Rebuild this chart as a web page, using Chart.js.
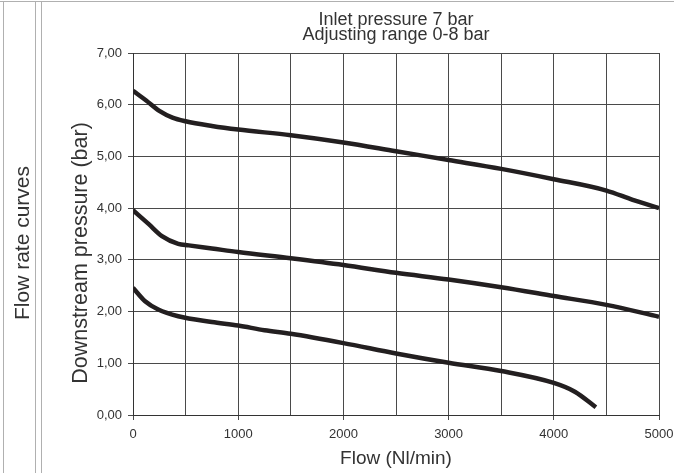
<!DOCTYPE html>
<html>
<head>
<meta charset="utf-8">
<script src="https://cdn.jsdelivr.net/npm/chart.js@4/dist/chart.umd.min.js"></script>
<style>
  html, body { margin: 0; padding: 0; background: #fff; }
  #wrap { position: relative; width: 674px; height: 473px; }
</style>
</head>
<body>
<div id="wrap"><canvas id="myChart" width="674" height="473"></canvas></div>
<script>
'use strict';

// flow (Nl/min) and downstream pressure (bar)
let flowTop = [0, 125, 250, 375, 500, 750, 1000, 1500, 2000, 2500, 3000, 3500, 4000, 4500, 4750, 5000];
let pressTop = [6.27, 6.08, 5.88, 5.75, 5.68, 5.59, 5.52, 5.41, 5.27, 5.10, 4.93, 4.76, 4.56, 4.34, 4.16, 4.00];

let flowMid = [0, 150, 275, 430, 530, 750, 1000, 1500, 2000, 2500, 3000, 3500, 4000, 4500, 5000];
let pressMid = [3.96, 3.69, 3.46, 3.31, 3.28, 3.22, 3.15, 3.03, 2.90, 2.75, 2.62, 2.47, 2.30, 2.13, 1.90];

let flowLow = [0, 115, 240, 430, 750, 1000, 1250, 1500, 2000, 2500, 3000, 3500, 4000, 4200, 4400];
let pressLow = [2.46, 2.20, 2.04, 1.91, 1.80, 1.73, 1.64, 1.57, 1.39, 1.19, 1.01, 0.85, 0.62, 0.45, 0.15];

let titleLines = ['Inlet pressure 7 bar', 'Adjusting range 0-8 bar'];
let xTitle = 'Flow (Nl/min)';
let yTitle = 'Downstream pressure (bar)';
let sideLabel = 'Flow rate curves';

let fontName = '"Liberation Sans", Arial, sans-serif';
let lineColor = '#231f20';
let gridColor = '#4a4a4a';

function toPoints(xs, ys) {
    let pts = [];
    for (let i = 0; i < xs.length; i++) {
        pts.push({ x: xs[i], y: ys[i] });
    }
    return pts;
}

function curve(xs, ys) {
    return {
        data: toPoints(xs, ys),
        borderColor: lineColor,
        borderWidth: 4.5,
        pointRadius: 0,
        cubicInterpolationMode: 'monotone',
        borderCapStyle: 'butt',
        fill: false
    };
}

// frame lines, side label, two-line title and y title
let decorations = {
    id: 'decorations',
    afterDraw(chart) {
        let ctx = chart.ctx;
        let area = chart.chartArea;
        let cx = (area.left + area.right) / 2;
        ctx.save();

        ctx.strokeStyle = '#b0b0b0';
        ctx.lineWidth = 1;
        ctx.beginPath();
        ctx.moveTo(0, 1.5); ctx.lineTo(674, 1.5);
        ctx.moveTo(3.5, 1.5); ctx.lineTo(3.5, 473);
        ctx.moveTo(35.5, 2); ctx.lineTo(35.5, 473);
        ctx.moveTo(41.5, 2); ctx.lineTo(41.5, 473);
        ctx.stroke();

        ctx.fillStyle = '#333';
        ctx.textAlign = 'center';
        ctx.textBaseline = 'alphabetic';
        ctx.font = '18px ' + fontName;
        ctx.fillText(titleLines[0], cx, 25);
        ctx.fillText(titleLines[1], cx, 39.5);

        ctx.textBaseline = 'middle';
        ctx.font = '21.5px ' + fontName;
        ctx.save();
        ctx.translate(81, 253);
        ctx.rotate(-Math.PI / 2);
        ctx.fillText(yTitle, 0, 0);
        ctx.restore();

        ctx.font = '21px ' + fontName;
        ctx.save();
        ctx.translate(23, 243);
        ctx.rotate(-Math.PI / 2);
        ctx.fillText(sideLabel, 0, 0);
        ctx.restore();

        ctx.restore();
    }
};

Chart.defaults.font.family = fontName;
Chart.defaults.color = '#333';

let ctx = document.getElementById('myChart').getContext('2d');
let chart = new Chart(ctx, {
    type: 'line',
    data: {
        datasets: [curve(flowTop, pressTop), curve(flowMid, pressMid), curve(flowLow, pressLow)]
    },
    plugins: [decorations],
    options: {
        responsive: false,
        animation: false,
        devicePixelRatio: 1,
        layout: { padding: { top: 53, right: 0, bottom: 0, left: 0 } },
        plugins: {
            legend: { display: false },
            tooltip: { enabled: false }
        },
        scales: {
            x: {
                type: 'linear',
                min: 0,
                max: 5000,
                afterFit(scale) {
                    scale.height = 58;
                    scale.paddingRight = 15;
                },
                border: { color: '#333', width: 1 },
                grid: {
                    color: gridColor,
                    tickLength: 5,
                    tickColor: (c) => (c.tick && c.tick.value % 1000 === 0) ? gridColor : 'rgba(0,0,0,0)'
                },
                ticks: {
                    stepSize: 500,
                    padding: 7,
                    maxRotation: 0,
                    autoSkip: false,
                    font: { size: 13 },
                    callback: (v) => v % 1000 === 0 ? String(v) : ''
                },
                title: {
                    display: true,
                    text: xTitle,
                    color: '#333',
                    font: { size: 19 },
                    padding: { top: 0, bottom: 3 }
                }
            },
            y: {
                min: 0,
                max: 7,
                afterFit(scale) { scale.width = 133; },
                border: { color: '#333', width: 1 },
                grid: { color: gridColor, tickLength: 5 },
                ticks: {
                    stepSize: 1,
                    padding: 6,
                    font: { size: 13 },
                    callback: (v) => v.toFixed(2).replace('.', ',')
                }
            }
        }
    }
});
</script>
</body>
</html>
